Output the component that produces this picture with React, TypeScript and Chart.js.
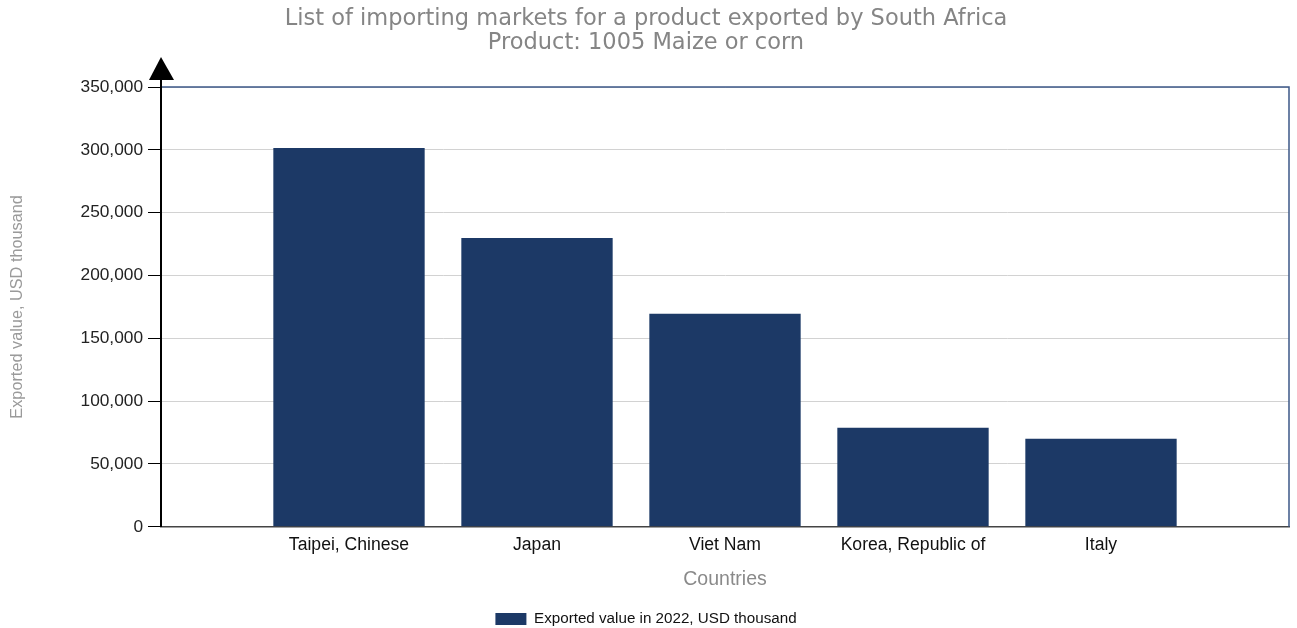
import React, { useEffect, useRef } from 'react';
import { Chart, registerables } from 'chart.js';

Chart.register(...registerables);

const categories: string[] = ['', 'Taipei, Chinese', 'Japan', 'Viet Nam', 'Korea, Republic of', 'Italy', ''];
const exportedValues: (number | null)[] = [null, 301500, 229800, 169500, 78800, 70000, null];
const yTickValues: number[] = [0, 50000, 100000, 150000, 200000, 250000, 300000, 350000];
const seriesLabel = 'Exported value in 2022, USD thousand';
const titleLines = ['List of importing markets for a product exported by South Africa', 'Product: 1005 Maize or corn'];
const xTitle = 'Countries';
const yTitle = 'Exported value, USD thousand';

const SANS = '"Liberation Sans", Arial, sans-serif';

const framePlugin = {
  id: 'framePlugin',
  afterDraw(chart: any) {
    const { ctx, chartArea } = chart;
    const { left, right, top, bottom } = chartArea;
    ctx.save();
    ctx.strokeStyle = '#3d5888';
    ctx.lineWidth = 1.5;
    ctx.beginPath();
    ctx.moveTo(left, top);
    ctx.lineTo(right, top);
    ctx.lineTo(right, bottom);
    ctx.stroke();
    ctx.strokeStyle = '#000';
    ctx.lineWidth = 2;
    ctx.beginPath();
    ctx.moveTo(left, bottom);
    ctx.lineTo(left, top - 8);
    ctx.stroke();
    ctx.fillStyle = '#000';
    ctx.beginPath();
    ctx.moveTo(left, top - 30);
    ctx.lineTo(left - 12, top - 7);
    ctx.lineTo(left + 13, top - 7);
    ctx.closePath();
    ctx.fill();
    ctx.restore();
  },
};

export default function App() {
  const canvasRef = useRef<HTMLCanvasElement | null>(null);

  useEffect(() => {
    document.body.style.margin = '0';
    const canvas = canvasRef.current;
    if (!canvas) return;
    const chart = new Chart(canvas, {
      type: 'bar',
      data: {
        labels: categories,
        datasets: [
          {
            label: seriesLabel,
            data: exportedValues,
            backgroundColor: '#1c3966',
            borderWidth: 0,
            categoryPercentage: 1,
            barPercentage: 0.805,
          },
        ],
      },
      options: {
        responsive: false,
        animation: false,
        maintainAspectRatio: false,
        layout: { padding: { left: 0, right: 5, top: 0, bottom: -8.5 } },
        plugins: {
          title: {
            display: true,
            text: titleLines,
            color: '#858585',
            font: { family: '"DejaVu Sans", Verdana, sans-serif', size: 22.5, weight: 'normal', lineHeight: 24 / 22.5 },
            padding: { top: 7, bottom: 32 },
          },
          legend: {
            position: 'bottom',
            labels: {
              boxWidth: 31,
              boxHeight: 12,
              padding: 3,
              color: '#111',
              font: { family: SANS, size: 15.2 },
            },
          },
          tooltip: { enabled: false },
        },
        scales: {
          x: {
            type: 'category',
            offset: false,
            grid: { display: false, drawTicks: false },
            border: { display: true, color: '#444', width: 1.5 },
            ticks: {
              color: '#111',
              padding: 8,
              autoSkip: false,
              maxRotation: 0,
              font: { family: SANS, size: 17.6 },
            },
            title: {
              display: true,
              text: xTitle,
              color: '#8a8a8a',
              font: { family: SANS, size: 19.5 },
              padding: { top: 0, bottom: 17 },
            },
            afterFit: (scale: any) => {
              scale.height = 81.5;
            },
          },
          y: {
            min: 0,
            max: 350000,
            grid: {
              color: '#d2d2d2',
              tickColor: '#000',
              tickLength: 13,
              drawTicks: true,
            },
            border: { display: true, color: '#000', width: 2 },
            afterBuildTicks: (scale: any) => {
              scale.ticks = yTickValues.map((v) => ({ value: v }));
            },
            ticks: {
              color: '#222',
              padding: 5,
              font: { family: SANS, size: 17.3 },
              callback: (v: any) => Number(v).toLocaleString('en-US'),
            },
            title: {
              display: true,
              text: yTitle,
              color: '#9a9a9a',
              font: { family: SANS, size: 16.3 },
              padding: { top: 8.2, bottom: 0 },
            },
            afterFit: (scale: any) => {
              scale.width = 161;
            },
          },
        },
      },
      plugins: [framePlugin],
    } as any);
    return () => chart.destroy();
  }, []);

  return (
    <div style={{ width: 1297, height: 628 }}>
      <canvas ref={canvasRef} width={1297} height={628} style={{ display: 'block' }} />
    </div>
  );
}
